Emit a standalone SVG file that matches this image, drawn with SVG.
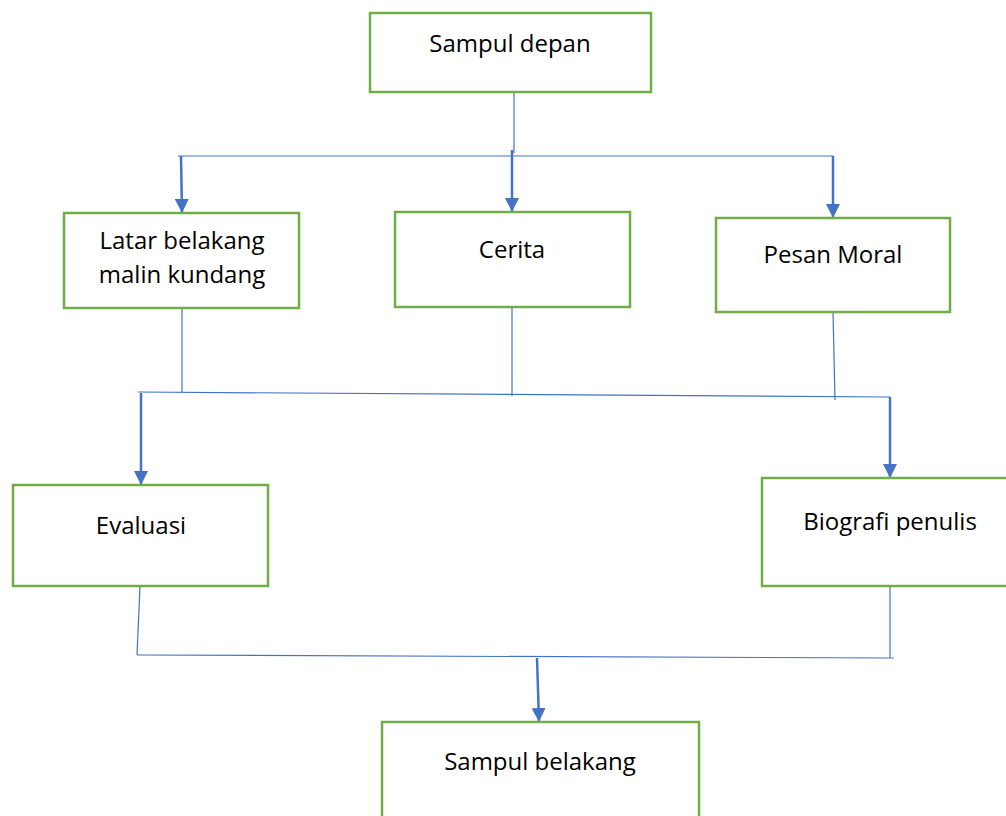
<svg xmlns="http://www.w3.org/2000/svg" width="1006" height="816" viewBox="0 0 1006 816">
<style>
.box{fill:#fff;stroke:#70AD47;stroke-width:2.5}
.t{font-family:"Open Sans","Noto Sans",sans-serif;font-size:24px;fill:#000;text-anchor:middle}
.ln{fill:none;stroke:#4472C4;stroke-width:1.2}
.ar{fill:none;stroke:#4472C4;stroke-width:2.5}
</style>
<defs>
<marker id="ah" markerUnits="userSpaceOnUse" markerWidth="16" markerHeight="14" refX="14" refY="7" orient="auto">
<path d="M0,0 L14,7 L0,14 Z" fill="#4472C4"/>
</marker>
</defs>
<rect width="1006" height="816" fill="#fff"/>
<g id="connectors">
<line class="ln" x1="514" y1="93" x2="514" y2="153"/>
<line class="ln" x1="178" y1="156" x2="833" y2="156"/>
<line class="ar" x1="181" y1="156" x2="182" y2="213" marker-end="url(#ah)"/>
<line class="ar" x1="512" y1="150" x2="512" y2="212" marker-end="url(#ah)"/>
<line class="ar" x1="833" y1="156" x2="833" y2="218" marker-end="url(#ah)"/>
<line class="ln" x1="182" y1="308" x2="182" y2="392"/>
<line class="ln" x1="512" y1="307" x2="512" y2="396"/>
<line class="ln" x1="833" y1="312" x2="835" y2="400"/>
<line class="ln" x1="138" y1="392" x2="890" y2="397"/>
<line class="ar" x1="141" y1="393" x2="141" y2="485" marker-end="url(#ah)"/>
<line class="ar" x1="890" y1="397" x2="890" y2="478" marker-end="url(#ah)"/>
<line class="ln" x1="140" y1="586" x2="137" y2="655"/>
<line class="ln" x1="890" y1="586" x2="890" y2="658"/>
<line class="ln" x1="137" y1="655" x2="894" y2="658"/>
<line class="ar" x1="537" y1="658" x2="539" y2="722" marker-end="url(#ah)"/>
</g>
<g id="sampul-depan">
<rect class="box" x="370" y="13" width="281" height="79"/>
<text class="t" x="510" y="52">Sampul depan</text>
</g>
<g id="latar-belakang">
<rect class="box" x="64" y="213" width="235" height="95"/>
<text class="t" x="182" y="249">Latar belakang</text>
<text class="t" x="182" y="283">malin kundang</text>
</g>
<g id="cerita">
<rect class="box" x="395" y="212" width="235" height="95"/>
<text class="t" x="512" y="258">Cerita</text>
</g>
<g id="pesan-moral">
<rect class="box" x="716" y="218" width="234" height="94"/>
<text class="t" x="833" y="263">Pesan Moral</text>
</g>
<g id="evaluasi">
<rect class="box" x="13" y="485" width="255" height="101"/>
<text class="t" x="141" y="534">Evaluasi</text>
</g>
<g id="biografi">
<rect class="box" x="762" y="478" width="250" height="108"/>
<text class="t" x="890" y="530">Biografi penulis</text>
</g>
<g id="sampul-belakang">
<rect class="box" x="382" y="722" width="317" height="110"/>
<text class="t" x="540" y="770">Sampul belakang</text>
</g>
</svg>
